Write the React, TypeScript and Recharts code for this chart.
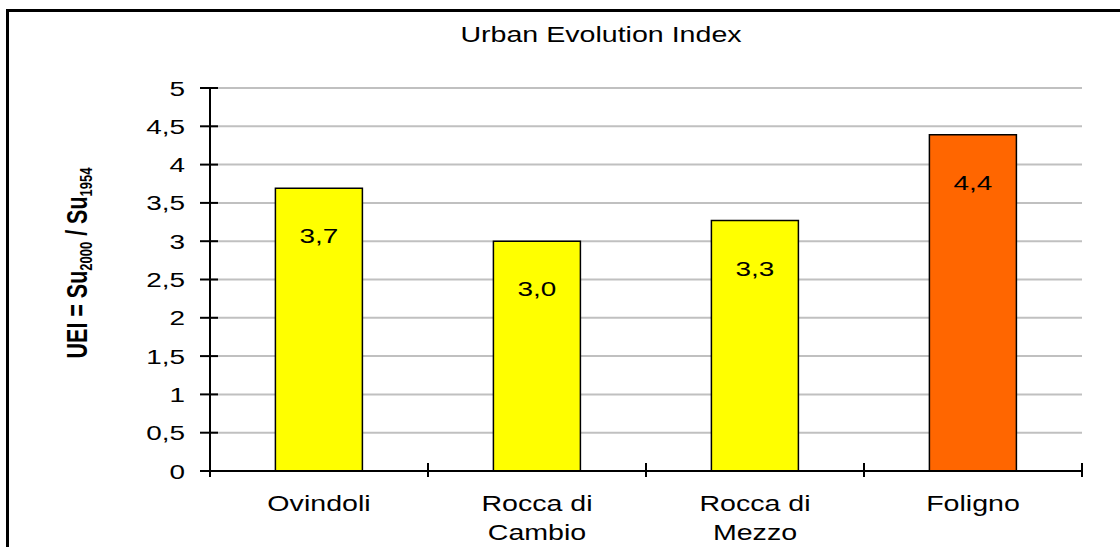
import React from "react";
import { BarChart, Bar, XAxis, YAxis, CartesianGrid, Cell, LabelList } from "recharts";

// values
const towns = ["Ovindoli", "Rocca di Cambio", "Rocca di Mezzo", "Foligno"];
const uei = [3.69, 3.0, 3.27, 4.39];
const yTicks = [0, 0.5, 1, 1.5, 2, 2.5, 3, 3.5, 4, 4.5, 5];

const barColors = ["#FFFF00", "#FFFF00", "#FFFF00", "#FF6600"];

const FONT = "'Liberation Sans', Arial, sans-serif";
const STRETCH = 1.33; // the source image is stretched horizontally

const data = towns.map((name, i) => ({ name, uei: uei[i] }));

const comma = (v: number, digits?: number) =>
  (digits === undefined ? String(v) : v.toFixed(digits)).replace(".", ",");

// greedy word wrap, like the spreadsheet does for long category names
function wrap(label: string, max = 10): string[] {
  const lines: string[] = [];
  let cur = "";
  label.split(" ").forEach((w) => {
    const next = cur ? cur + " " + w : w;
    if (next.length > max && cur) {
      lines.push(cur);
      cur = w;
    } else cur = next;
  });
  if (cur) lines.push(cur);
  return lines;
}

const XTick = (props: any) => {
  const { x, y, payload, index } = props;
  const half = payload.offset ?? 0;
  const lines = wrap(payload.value);
  return (
    <g>
      <line x1={x - half} x2={x - half} y1={y - 8} y2={y + 6} stroke="#000" strokeWidth={2} />
      {index === towns.length - 1 && (
        <line x1={x + half} x2={x + half} y1={y - 8} y2={y + 6} stroke="#000" strokeWidth={2} />
      )}
      <g transform={`translate(${x},${y}) scale(${STRETCH},1)`}>
        {lines.map((l, i) => (
          <text key={i} x={0} y={40 + i * 29} textAnchor="middle" fontFamily={FONT} fontSize={21.5} fill="#000">
            {l}
          </text>
        ))}
      </g>
    </g>
  );
};

const YTick = (props: any) => {
  const { x, y, payload } = props;
  return (
    <g>
      <line x1={x + 15} x2={x + 33} y1={y} y2={y} stroke="#000" strokeWidth={2} />
      <g transform={`translate(${x},${y}) scale(${STRETCH},1)`}>
        <text x={0} y={7.5} textAnchor="end" fontFamily={FONT} fontSize={21} fill="#000">
          {comma(payload.value)}
        </text>
      </g>
    </g>
  );
};

const BarValue = (props: any) => {
  const { x, y, width, value } = props;
  return (
    <g transform={`translate(${x + width / 2},${y + 55}) scale(${STRETCH},1)`}>
      <text x={0} y={0} textAnchor="middle" fontFamily={FONT} fontSize={21} fill="#000">
        {comma(value, 1)}
      </text>
    </g>
  );
};

export default function App() {
  return (
    <div>
      <div
        style={{
          position: "fixed",
          left: 6,
          top: 9,
          right: 0,
          bottom: 0,
          borderLeft: "3px solid #000",
          borderTop: "3px solid #000",
          background: "#fff",
        }}
      />
      <div style={{ position: "fixed", left: 0, top: 0 }}>
        <BarChart
          width={1120}
          height={547}
          data={data}
          margin={{ top: 88, right: 38, bottom: 0, left: 0 }}
          barCategoryGap="30%"
        >
          <CartesianGrid horizontal vertical={false} stroke="#c0c0c0" strokeWidth={2} />
          <XAxis
            dataKey="name"
            height={76}
            tickLine={false}
            tickSize={0}
            tickMargin={0}
            interval={0}
            tick={<XTick />}
            axisLine={{ stroke: "#000", strokeWidth: 2 }}
          />
          <XAxis xAxisId="top" dataKey="name" orientation="top" height={0} tick={false} tickLine={false} axisLine={{ stroke: "#8c8c8c", strokeWidth: 2 }} />
          <YAxis
            width={210}
            domain={[0, 5]}
            ticks={yTicks}
            interval={0}
            tickLine={false}
            tickSize={0}
            tickMargin={25}
            tick={<YTick />}
            axisLine={{ stroke: "#000", strokeWidth: 2 }}
          />
          <YAxis yAxisId="right" orientation="right" width={0} domain={[0, 5]} tick={false} tickLine={false} axisLine={{ stroke: "#999", strokeWidth: 2 }} />
          <Bar dataKey="uei" stroke="#000" strokeWidth={1.5} isAnimationActive={false}>
            {data.map((d, i) => (
              <Cell key={d.name} fill={barColors[i]} />
            ))}
            <LabelList dataKey="uei" content={<BarValue />} />
          </Bar>
        </BarChart>
      </div>
      <svg width={1120} height={547} style={{ position: "fixed", left: 0, top: 0, pointerEvents: "none" }}>
        <g transform={`translate(601,42) scale(${STRETCH},1)`}>
          <text x={0} y={0} textAnchor="middle" fontFamily={FONT} fontSize={21.5} fill="#000">
            Urban Evolution Index
          </text>
        </g>
        <g transform={`translate(87,263) rotate(-90) scale(1,${STRETCH})`}>
          <text x={0} y={0} textAnchor="middle" fontFamily={FONT} fontSize={21.5} fontWeight="bold" fill="#000">
            UEI = Su
            <tspan fontSize={13} dy={4}>2000</tspan>
            <tspan dy={-4}> / Su</tspan>
            <tspan fontSize={13} dy={4}>1954</tspan>
          </text>
        </g>
      </svg>
    </div>
  );
}
